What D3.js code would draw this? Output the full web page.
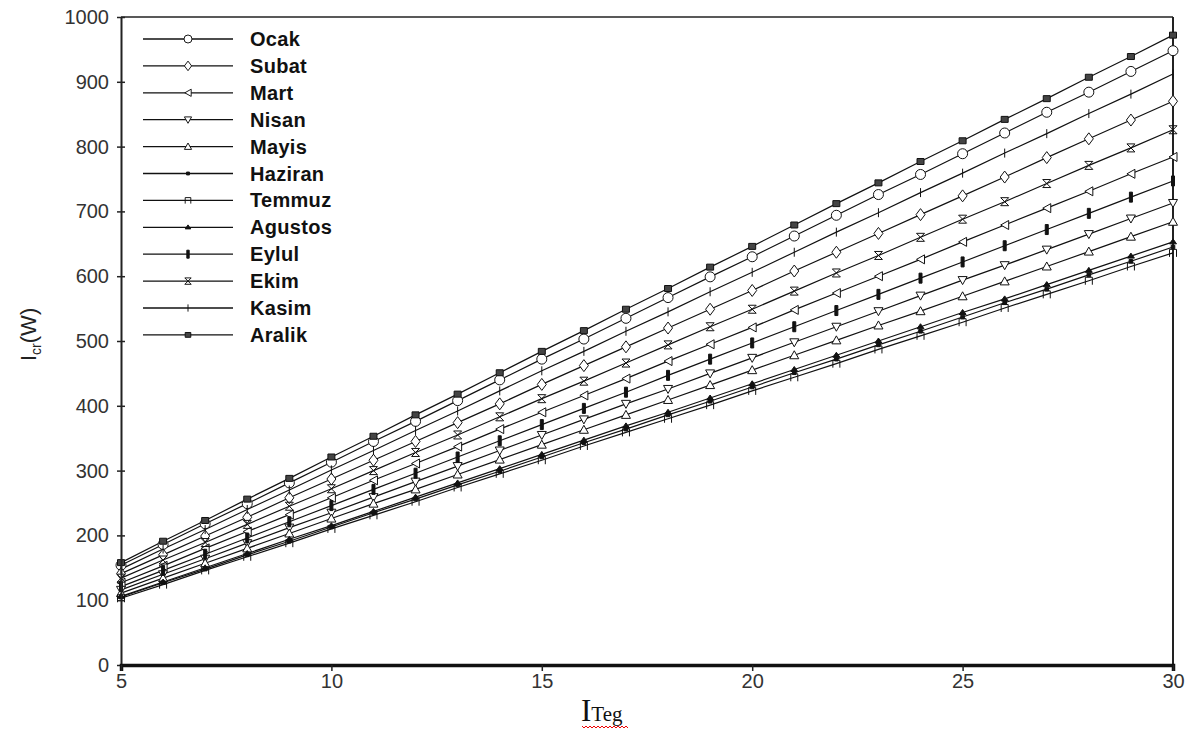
<!DOCTYPE html>
<html><head><meta charset="utf-8">
<script src="https://cdn.jsdelivr.net/npm/d3@7"></script>
<style>
html,body{margin:0;padding:0;background:#fff;}
svg{display:block;}
</style></head>
<body>
<svg id="chart" width="1192" height="731"></svg>
<script>
// ---- data ----
const xValues = [5,6,7,8,9,10,11,12,13,14,15,16,17,18,19,20,21,22,23,24,25,26,27,28,29,30];
const months = ["Ocak","Subat","Mart","Nisan","Mayis","Haziran","Temmuz","Agustos","Eylul","Ekim","Kasim","Aralik"];
const ocak    = [154,186,218,249,281,313,345,376,408,440,472,503,535,567,599,630,662,694,726,757,789,821,853,884,916,948];
const subat   = [141,170,199,228,258,287,316,345,374,403,433,462,491,520,549,578,608,637,666,695,724,753,783,812,841,870];
const mart    = [127,153,180,206,232,258,285,311,337,364,390,416,442,469,495,521,548,574,600,626,653,679,705,731,758,784];
const nisan   = [116,140,164,188,212,235,259,283,307,331,355,379,403,426,450,474,498,522,546,570,594,617,641,665,689,713];
const mayis   = [111,134,157,180,203,226,249,271,294,317,340,363,386,409,432,455,478,501,524,546,569,592,615,638,661,684];
const haziran = [105,127,148,170,191,213,235,256,278,299,321,343,364,386,407,429,451,472,494,515,537,559,580,602,623,645];
const temmuz  = [103,124,146,167,188,210,231,252,274,295,316,338,359,380,401,423,444,465,487,508,529,551,572,593,615,636];
const agustos = [106,128,150,172,194,215,237,259,281,303,325,347,369,390,412,434,456,478,500,522,544,565,587,609,631,653];
const eylul   = [121,146,171,196,221,246,271,296,321,346,371,396,421,447,472,497,522,547,572,597,622,647,672,697,722,747];
const ekim    = [134,162,189,217,245,272,300,328,355,383,411,438,466,494,522,549,577,605,632,660,688,715,743,771,798,826];
const kasim   = [148,179,209,240,270,301,331,362,392,423,454,484,515,545,576,606,637,668,698,729,759,790,820,851,881,912];
const aralik  = [158,191,223,256,288,321,353,386,418,451,484,516,549,581,614,646,679,712,744,777,809,842,874,907,939,972];
const yTicks = [0,100,200,300,400,500,600,700,800,900,1000];
const xTicks = [5,10,15,20,25,30];

const seriesValues = [ocak,subat,mart,nisan,mayis,haziran,temmuz,agustos,eylul,ekim,kasim,aralik];
const markerKinds = ["circle","diamond","triLeft","triDown","triUp","dot","square","triUpSmall","bar","hourglass","plus","smallSquare"];

// ---- layout ----
const svg = d3.select("#chart");
const L = 121, R = 1173, T = 17, B = 665;
const x = d3.scaleLinear().domain([5,30]).range([L,R]);
const y = d3.scaleLinear().domain([0,1000]).range([B,T]);

function markerPath(kind){
  switch(kind){
    case "circle": return "M-5,0A5,5 0 1,0 5,0A5,5 0 1,0 -5,0Z";
    case "diamond": return "M0,-6L4.5,0L0,6L-4.5,0Z";
    case "triLeft": return "M-4,0L4,-4.5L4,4.5Z";
    case "triDown": return "M-4.5,-3.5L4.5,-3.5L0,4.5Z";
    case "triUp": return "M0,-4.5L4.5,3.5L-4.5,3.5Z";
    case "dot": return "M-1.8,-1.8H1.8V1.8H-1.8Z";
    case "square": return "M-3.5,4V-3.5H3.5V4";
    case "triUpSmall": return "M0,-3L3.5,2L-3.5,2Z";
    case "bar": return "M-1.5,-5H1.5V5H-1.5Z";
    case "hourglass": return "M-4,-4H4L-4,4H4L-4,-4";
    case "plus": return "M0,-4.5V4.5";
    case "smallSquare": return "M-3.5,-3H3.5V3H-3.5Z";
  }
}
function markerFill(kind){
  if (kind==="dot"||kind==="triUpSmall"||kind==="bar") return "#111";
  if (kind==="smallSquare") return "#444";
  if (kind==="plus"||kind==="square"||kind==="hourglass") return "none";
  return "#fff";
}

// frame
svg.append("line").attr("x1",L).attr("x2",R).attr("y1",T).attr("y2",T)
  .attr("stroke","#222").attr("stroke-width",1.5);
svg.append("line").attr("x1",R).attr("x2",R).attr("y1",T).attr("y2",B)
  .attr("stroke","#222").attr("stroke-width",2);

// lines
const line = d3.line().x((d,i)=>x(xValues[i])).y(d=>y(d));
seriesValues.forEach((vals)=>{
  svg.append("path").datum(vals).attr("d",line)
    .attr("fill","none").attr("stroke","#111").attr("stroke-width",1.2);
});
// markers
seriesValues.forEach((vals,si)=>{
  const kind = markerKinds[si];
  svg.append("g").selectAll("path").data(vals).join("path")
    .attr("transform",(d,i)=>`translate(${x(xValues[i])},${y(d)})`)
    .attr("d",markerPath(kind))
    .attr("fill", markerFill(kind))
    .attr("stroke","#111").attr("stroke-width",1);
});

// y axis
const yAxis = d3.axisLeft(y).tickValues(yTicks).tickFormat(d3.format("d")).tickSize(0).tickPadding(12);
const gy = svg.append("g").attr("transform",`translate(${L},0)`).call(yAxis);
gy.select(".domain").attr("stroke","#222").attr("stroke-width",2);
gy.selectAll(".tick text").attr("font-family","Liberation Sans, Arial, sans-serif")
  .attr("font-size",20).attr("fill","#333");
gy.selectAll(".tick").append("line").attr("x1",-4).attr("x2",4).attr("stroke","#222").attr("stroke-width",1.5);

// x axis
const xAxis = d3.axisBottom(x).tickValues(xTicks).tickFormat(d3.format("d")).tickSize(6).tickPadding(3);
const gx = svg.append("g").attr("transform",`translate(0,${B})`).call(xAxis);
gx.select(".domain").attr("stroke","#111").attr("stroke-width",3.5);
gx.selectAll(".tick line").attr("stroke","#222").attr("stroke-width",1.5);
gx.selectAll(".tick text").attr("font-family","Liberation Sans, Arial, sans-serif")
  .attr("font-size",20).attr("fill","#333");

// legend
const legY0 = 39, legDY = 26.9;
const leg = svg.append("g");
months.forEach((m,i)=>{
  const yy = legY0 + i*legDY;
  leg.append("line").attr("x1",143).attr("x2",233).attr("y1",yy).attr("y2",yy)
    .attr("stroke","#111").attr("stroke-width",1.3);
  const kind = markerKinds[i];
  leg.append("path").attr("transform",`translate(188,${yy}) scale(0.8)`)
    .attr("d",markerPath(kind))
    .attr("fill", markerFill(kind))
    .attr("stroke","#111").attr("stroke-width",1.2);
  leg.append("text").attr("x",250).attr("y",yy+7).text(m)
    .attr("font-family","Liberation Sans, Arial, sans-serif").attr("font-weight","bold")
    .attr("font-size",20).attr("letter-spacing",0.3).attr("fill","#111");
});

// y label
const yl = svg.append("text").attr("transform","translate(36,361) rotate(-90)")
  .attr("font-family","Liberation Sans, Arial, sans-serif").attr("font-size",22).attr("fill","#222");
yl.append("tspan").text("I");
yl.append("tspan").attr("font-size",14).attr("dy",5).text("cr");
yl.append("tspan").attr("dy",-5).text("(W)");

// x label
const xl = svg.append("text").attr("x",581).attr("y",721)
  .attr("font-family","Liberation Serif, Times New Roman, serif").attr("fill","#111");
xl.append("tspan").attr("font-size",31).text("I");
xl.append("tspan").attr("font-size",21).text("Teg");
// spell-check squiggle
const sq = d3.range(0,24).map(i=>[582+i*2, 726+(i%2?2:0)]);
svg.append("path").attr("d",d3.line()(sq)).attr("fill","none").attr("stroke","#e00").attr("stroke-width",1);
</script>
</body></html>
